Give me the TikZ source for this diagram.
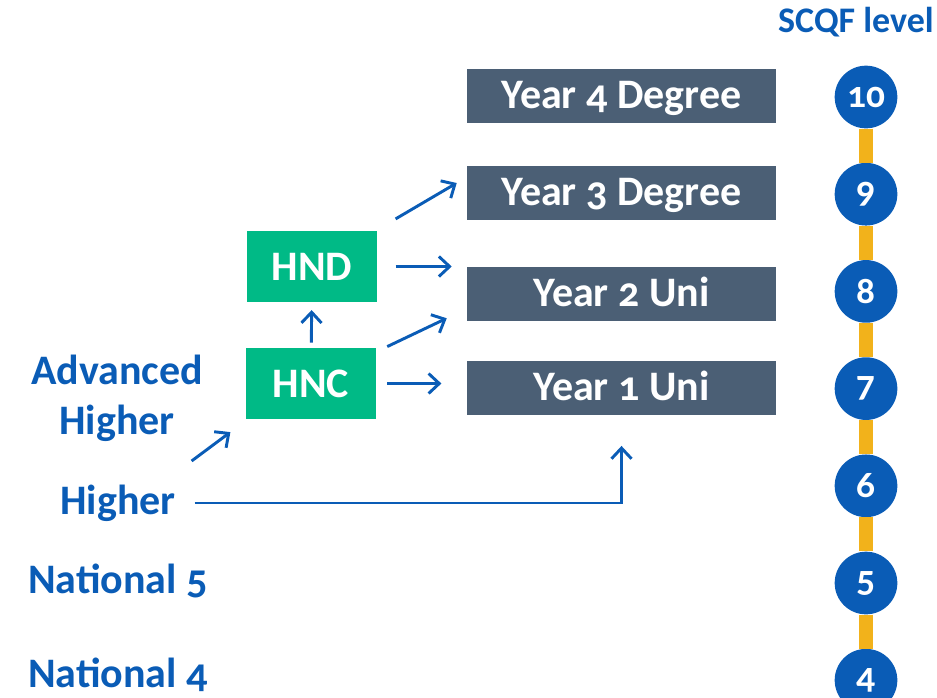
\documentclass[tikz,border=0pt]{standalone}
\usepackage{fontspec}
\setmainfont{Carlito}[Numbers=OldStyle]
\usepackage{xcolor}
\usetikzlibrary{positioning, arrows.meta}
\definecolor{scqfblue}{HTML}{0A5CB6}
\definecolor{unigrey}{HTML}{4B5F75}
\definecolor{hngreen}{HTML}{00BA86}
\definecolor{railgold}{HTML}{F2B21B}
\tikzset{
    uni/.style={rectangle, fill=unigrey, text=white, minimum width=231.75pt, minimum height=40.5pt, inner sep=0pt, text height=22pt, text depth=4pt, font=\bfseries\fontsize{31.5}{36}\selectfont},
    college/.style={rectangle, fill=hngreen, text=white, minimum width=98pt, minimum height=53pt, inner sep=0pt, font=\bfseries\fontsize{31.5}{36}\selectfont},
    level/.style={circle, fill=scqfblue, text=white, minimum size=47pt, inner sep=0pt, font=\bfseries\fontsize{28}{30}\selectfont},
    school/.style={text=scqfblue, align=center, inner sep=2pt, font=\bfseries\fontsize{31.5}{37.5}\selectfont},
    rail/.style={draw=railgold, line width=10pt},
    route/.style={draw=scqfblue, line width=2.2pt, -{Straight Barb[length=8pt, width=15pt, line width=2.2pt]}},
}
\begin{document}
\begin{tikzpicture}[x=0.75pt, y=-0.75pt]
    \useasboundingbox (0,0) rectangle (937,697);
    \node [school, font=\bfseries\fontsize{27}{30}\selectfont] (scqf) at (856,22) {SCQF level};
    \foreach \n in {10,...,4}
        \node [level] (l\n) at (866,{97+(10-\n)*97.2}) {\n};
    \foreach \n [evaluate=\n as \m using int(\n-1)] in {10,...,5}
        \draw [rail] (l\n) -- (l\m);
    \node [uni] (yr4) at (621.5,96) {Year 4 Degree};
    \node [uni] (yr3) at (621.5,193) {Year 3 Degree};
    \node [uni] (yr2) at (621.5,294) {Year 2 Uni};
    \node [uni] (yr1) at (621.5,388) {Year 1 Uni};
    \node [college] (hnd) at (312,266.5) {HND};
    \node [college] (hnc) at (311,383.5) {HNC};
    \node [school] (advhigher) at (117,398) {Advanced\\Higher};
    \node [school] (higher) at (118,503) {Higher};
    \node [school] (nat5) at (118,581) {National 5};
    \node [school] (nat4) at (118,675) {National 4};
    \draw [route, shorten >=23pt] ([xshift=12pt]higher.east) -| (yr1.south);
    \draw [route] ([xshift=9.75pt, yshift=31.5pt]higher.east) -- ([xshift=-11.25pt, yshift=-9.75pt]hnc.south west);
    \draw [route, shorten <=4pt, shorten >=6pt] (hnc) -- (hnd);
    \draw [route, shorten <=8pt, shorten >=19pt] (hnc.east) -- (hnc.east -| yr1.west);
    \draw [route] ([xshift=8pt, yshift=1pt]hnc.north east) -- ([xshift=-15pt, yshift=2.25pt]yr2.south west);
    \draw [route, shorten <=13.5pt, shorten >=11.25pt] (hnd.east) -- (hnd.east -| yr2.west);
    \draw [route] ([xshift=13.5pt, yshift=9pt]hnd.north east) -- ([xshift=-7.5pt, yshift=7.5pt]yr3.west);
\end{tikzpicture}
\end{document}
